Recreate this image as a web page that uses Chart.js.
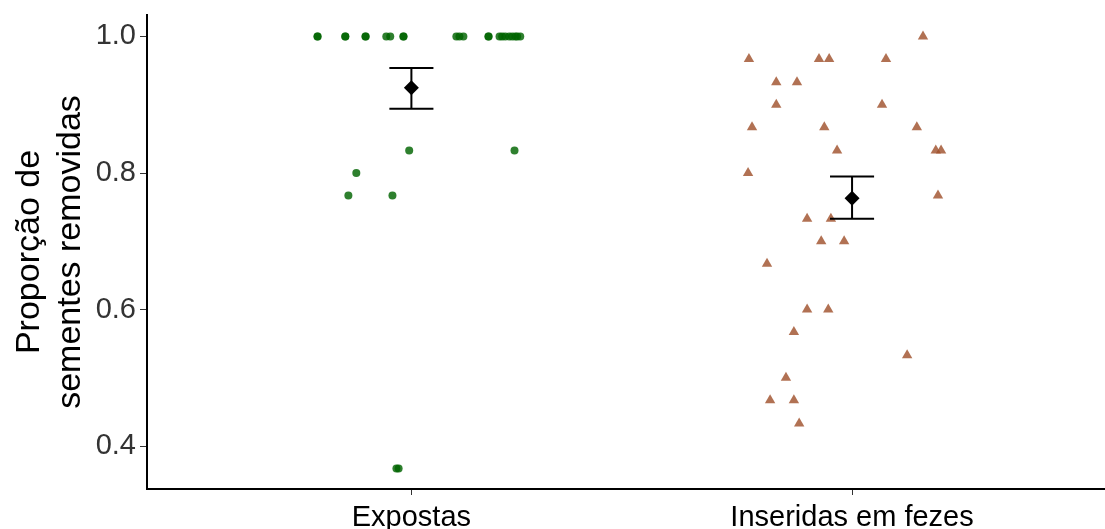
<!DOCTYPE html>
<html>
<head>
<meta charset="utf-8">
<script src="https://cdn.jsdelivr.net/npm/chart.js@4"></script>
<style>
  body { margin: 0; background: #fff; }
</style>
</head>
<body>
<canvas id="chart" width="1105" height="529"></canvas>
<script>
// categories and tick values
const groups = ["Expostas", "Inseridas em fezes"];
const yTicks = [0.4, 0.6, 0.8, 1.0];

// jittered points, group 1 (x in category units)
const expostasX = [0.787, 0.787, 0.850, 0.850, 0.896, 0.896, 0.943, 0.952, 0.982, 0.982,
  1.102, 1.109, 1.118, 1.175, 1.175, 1.200, 1.206, 1.213, 1.222, 1.229, 1.236, 1.240, 1.247,
  0.995, 1.234, 0.875, 0.857, 0.957, 0.966, 0.971];
const expostasY = [1, 1, 1, 1, 1, 1, 1, 1, 1, 1,
  1, 1, 1, 1, 1, 1, 1, 1, 1, 1, 1, 1, 1,
  0.833, 0.833, 0.8, 0.767, 0.767, 0.367, 0.367];

// jittered points, group 2
const inseridasX = [2.161, 1.766, 1.925, 1.948, 2.077, 1.828, 1.875, 1.828, 2.068, 1.773,
  1.937, 2.147, 1.966, 2.190, 2.202, 1.764, 2.195, 1.898, 1.952, 1.930,
  1.982, 1.807, 1.898, 1.946, 1.868, 2.125, 1.850, 1.814, 1.868, 1.880];
const inseridasY = [1.0, 0.967, 0.967, 0.967, 0.967, 0.933, 0.933, 0.9, 0.9, 0.867,
  0.867, 0.867, 0.833, 0.833, 0.833, 0.8, 0.767, 0.733, 0.733, 0.7,
  0.7, 0.667, 0.6, 0.6, 0.567, 0.533, 0.5, 0.467, 0.467, 0.433];

// means and error bars
const means = [0.925, 0.763];
const lower = [0.894, 0.733];
const upper = [0.954, 0.795];

const toPoints = (xs, ys) => xs.map((x, i) => ({ x: x, y: ys[i] }));

// error bars drawn just before the mean diamonds
const errorBars = {
  id: "errorBars",
  beforeDatasetDraw(chart, args) {
    if (args.index !== 0) return;
    const xs = chart.scales.x, ys = chart.scales.y;
    const ctx = chart.ctx;
    ctx.save();
    ctx.strokeStyle = "#000";
    ctx.lineWidth = 2;
    for (let i = 0; i < means.length; i++) {
      const cx = xs.getPixelForValue(i + 1);
      const x0 = xs.getPixelForValue(i + 1 - 0.05);
      const x1 = xs.getPixelForValue(i + 1 + 0.05);
      const yl = ys.getPixelForValue(lower[i]);
      const yu = ys.getPixelForValue(upper[i]);
      ctx.beginPath();
      ctx.moveTo(cx, yl); ctx.lineTo(cx, yu);
      ctx.moveTo(x0, yl); ctx.lineTo(x1, yl);
      ctx.moveTo(x0, yu); ctx.lineTo(x1, yu);
      ctx.stroke();
    }
    ctx.restore();
  }
};

new Chart(document.getElementById("chart"), {
  type: "scatter",
  data: {
    datasets: [
      {
        label: "mean",
        data: means.map((m, i) => ({ x: i + 1, y: m })),
        pointStyle: "rectRot",
        radius: 7.5,
        backgroundColor: "#000",
        borderColor: "#000",
        borderWidth: 0
      },
      {
        label: groups[0],
        data: toPoints(expostasX, expostasY),
        pointStyle: "circle",
        radius: 4,
        backgroundColor: "rgba(0,100,0,0.82)",
        borderWidth: 0
      },
      {
        label: groups[1],
        data: toPoints(inseridasX, inseridasY),
        pointStyle: "triangle",
        radius: 6,
        backgroundColor: "rgba(160,82,45,0.82)",
        borderWidth: 0
      }
    ]
  },
  options: {
    responsive: false,
    animation: false,
    layout: { autoPadding: false, padding: { top: 15, right: 0, bottom: 0, left: 0 } },
    plugins: { legend: { display: false }, tooltip: { enabled: false } },
    scales: {
      x: {
        type: "linear",
        min: 0.4,
        max: 2.574,
        afterBuildTicks: (s) => { s.ticks = [{ value: 1 }, { value: 2 }]; },
        afterFit: (s) => { s.height = 40; s.paddingLeft = 0; s.paddingRight = 0; },
        ticks: {
          callback: (v) => groups[v - 1],
          font: { family: "Liberation Sans, Arial", size: 29 },
          color: "#000",
          padding: 6,
          maxRotation: 0
        },
        grid: { drawOnChartArea: false, tickLength: 6, color: "#333", tickWidth: 1 },
        border: { color: "#000", width: 2 }
      },
      y: {
        min: 0.337,
        max: 1.0315,
        afterBuildTicks: (s) => { s.ticks = yTicks.map(v => ({ value: v })); },
        afterFit: (s) => { s.width = 147; s.paddingTop = 0; s.paddingBottom = 0; },
        ticks: {
          callback: (v) => v.toFixed(1),
          font: { family: "Liberation Sans, Arial", size: 29 },
          color: "#333",
          padding: 4
        },
        title: {
          display: true,
          text: ["Proporção de", "sementes removidas"],
          font: { family: "Liberation Sans, Arial", size: 34, lineHeight: 1.18 },
          color: "#000",
          padding: { top: 10, bottom: 0 }
        },
        grid: { drawOnChartArea: false, tickLength: 7, color: "#333", tickWidth: 1 },
        border: { color: "#000", width: 2 }
      }
    }
  },
  plugins: [errorBars]
});
</script>
</body>
</html>
